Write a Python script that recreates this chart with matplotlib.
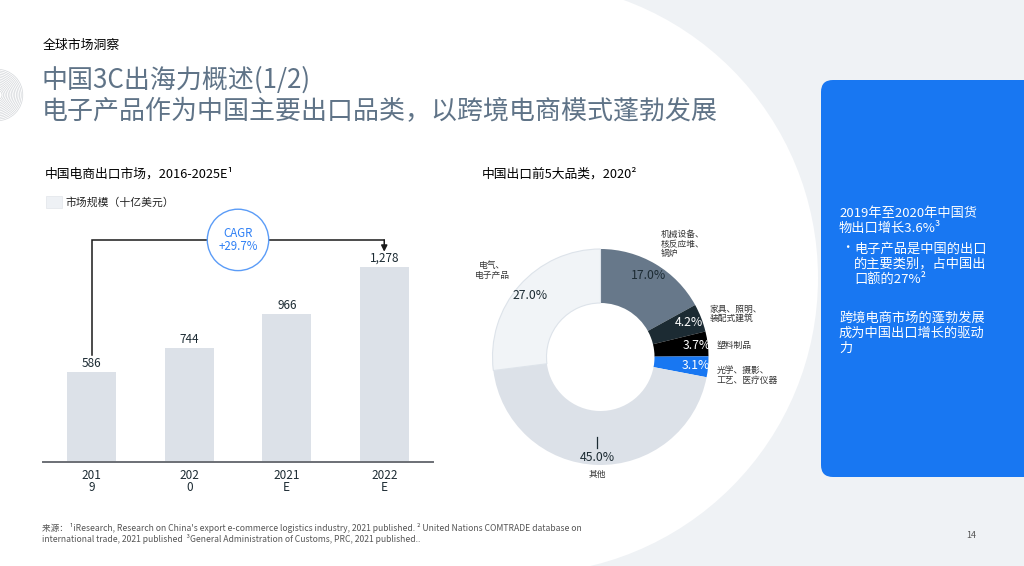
import numpy as np
import matplotlib
matplotlib.use("Agg")
import matplotlib.pyplot as plt
from matplotlib.patches import Circle, Rectangle, FancyBboxPatch
from matplotlib.transforms import ScaledTranslation

plt.rcParams["font.family"] = ["Noto Sans CJK SC", "DejaVu Sans"]

# =========================
# DADOS
# =========================

YEARS = ["201\n9", "202\n0", "2021\nE", "2022\nE"]
MARKET_SIZE = [586, 744, 966, 1278]
CAGR_TEXT = "CAGR\n+29.7%"

CATEGORIES = [
    "机械设备、\n核反应堆、\n锅炉",
    "家具、照明、\n装配式建筑",
    "塑料制品",
    "光学、摄影、\n工艺、医疗仪器",
    "其他",
    "电气、\n电子产品",
]
SHARES = [17.0, 4.2, 3.7, 3.1, 45.0, 27.0]

# estilos (fora dos dados)
SLICE_COLORS = ["#67788a", "#1c2b33", "#000000", "#1877f2", "#dce1e8", "#f1f4f7"]
PCT_COLORS = ["#1c2b33", "white", "white", "white", "#1c2b33", "#1c2b33"]
PCT_RADII = [0.88, 0.88, 0.90, 0.885, 0.93, 0.865]
# posicao (x, y, ha) dos rotulos das categorias, em unidades do raio
CAT_POS = [(0.557, 1.046, "left"), (1.006, 0.40, "left"), (1.076, 0.111, "left"),
           (1.076, -0.17, "left"), (-0.03, -1.083, "center"), (-1.0, 0.80, "center")]

W, H = 1024, 566
TITLE_COLOR = "#5f7387"
BLUE = "#1877f2"
TEXT_DARK = "#1c2b33"

fig = plt.figure(figsize=(W / 100, H / 100), dpi=100)

# =========================
# FUNDO (coordenadas em pixels)
# =========================
bg = fig.add_axes([0, 0, 1, 1])
bg.set_xlim(0, W)
bg.set_ylim(H, 0)
bg.axis("off")

bg.add_patch(Rectangle((522, 0), W - 522, H, color="#eff2f5", lw=0))
bg.add_patch(Circle((522, 278), 296, color="white", lw=0))

for r in np.arange(5, 27, 1.6):
    bg.add_patch(Circle((-3, 95), r, fill=False, ec="#cfd2d6", lw=0.45))

bg.add_patch(FancyBboxPatch((821, 80), 240, 397,
                            boxstyle="round,pad=0,rounding_size=12",
                            fc=BLUE, ec="none"))

bg.text(43, 45, "全球市场洞察", fontsize=9.3, color="black", va="center")
bg.text(42, 80, "中国3C出海力概述(1/2)", fontsize=18.7, color=TITLE_COLOR, va="center")
bg.text(42, 112, "电子产品作为中国主要出口品类，以跨境电商模式蓬勃发展",
        fontsize=18.7, color=TITLE_COLOR, va="center")

bg.text(45, 174, "中国电商出口市场，2016-2025E¹", fontsize=9.2, color="black", va="center")
bg.text(482, 174, "中国出口前5大品类，2020²", fontsize=9.2, color="black", va="center")

bg.add_patch(Rectangle((46, 195.5), 16, 12.5, fc="#eef1f5", ec="#e1e5ea", lw=0.5))
bg.text(66, 202, "市场规模（十亿美元）", fontsize=7.8, color="#222222", va="center")

# texto da caixa azul
box_lines = [
    (839, 213, "2019年至2020年中国货"),
    (839, 228, "物出口增长3.6%³"),
    (854, 249, "电子产品是中国的出口"),
    (854, 264, "的主要类别，占中国出"),
    (854, 279, "口额的27%²"),
    (839, 318, "跨境电商市场的蓬勃发展"),
    (839, 333, "成为中国出口增长的驱动"),
    (839, 348, "力"),
]
for x, y, s in box_lines:
    bg.text(x, y, s, fontsize=9.5, color="white", va="center")
bg.text(841, 247, "•", fontsize=9, color="white", va="center")

bg.text(42, 528, "来源： ¹iResearch, Research on China's export e-commerce logistics industry, "
        "2021 published. ² United Nations COMTRADE database on",
        fontsize=6.2, color="#555555", va="center")
bg.text(42, 539, "international trade, 2021 published  ³General Administration of Customs, "
        "PRC, 2021 published..", fontsize=6.2, color="#555555", va="center")
bg.text(966, 535, "14", fontsize=6.5, color="#555555", va="center")

# =========================
# GRAFICO DE BARRAS
# =========================
BASE_Y, TOP_Y = 461.7, 170
PX_PER_UNIT = 0.1525
ax = fig.add_axes([43 / W, 1 - BASE_Y / H, 390 / W, (BASE_Y - TOP_Y) / H])
ax.patch.set_alpha(0)

x = np.arange(len(YEARS))
bars = ax.bar(x, MARKET_SIZE, width=0.5, color="#dce1e8", zorder=2)
ax.set_xlim(-0.5, len(YEARS) - 0.5)
ax.set_ylim(0, (BASE_Y - TOP_Y) / PX_PER_UNIT)

for xi, v in zip(x, MARKET_SIZE):
    ax.annotate(f"{v:,}", (xi, v), xytext=(0, 1.5), textcoords="offset points",
                ha="center", va="bottom", fontsize=8.5, color=TEXT_DARK)

ax.set_xticks(x, YEARS)
ax.tick_params(axis="x", length=0, pad=5, labelsize=8.5, labelcolor=TEXT_DARK)
for lbl in ax.get_xticklabels():
    lbl.set_linespacing(0.95)
ax.set_yticks([])
for side in ["top", "right", "left"]:
    ax.spines[side].set_visible(False)
ax.spines["bottom"].set_color("#6b6f75")
ax.spines["bottom"].set_linewidth(1.4)

# colchete CAGR
top = max(MARKET_SIZE)
bracket_y = top * 1.138
x0, x1 = x[0], x[-1]
ax.plot([x0, x0, x1], [MARKET_SIZE[0] + 114, bracket_y, bracket_y],
        color="#1a1a1a", lw=1.1, solid_joinstyle="miter", zorder=3)
ax.annotate("", xy=(x1, top + 99), xytext=(x1, bracket_y),
            arrowprops=dict(arrowstyle="-|>", color="#1a1a1a", lw=1.1,
                            mutation_scale=9, shrinkA=0, shrinkB=0), zorder=3)
xm = (x0 + x1) / 2
trans = fig.dpi_scale_trans + ScaledTranslation(xm, bracket_y, ax.transData)
ax.add_patch(Circle((0, 0), 0.307, transform=trans, fc="white", ec="#5b9cf7",
                    lw=1.0, zorder=4, clip_on=False))
ax.text(xm, bracket_y, CAGR_TEXT, ha="center", va="center", fontsize=8.3,
        color="#2f80f5", linespacing=1.05, zorder=5)

# =========================
# GRAFICO DE ROSCA
# =========================
CX, CY, R = 600.5, 357, 108
half = 1.3 * R
pax = fig.add_axes([(CX - half) / W, 1 - (CY + half) / H, 2 * half / W, 2 * half / H])
wedges, _ = pax.pie(SHARES, colors=SLICE_COLORS, startangle=90, counterclock=False,
                    radius=1, wedgeprops=dict(width=0.5, edgecolor="none"))
wedges[-1].set_edgecolor("#dde3ea")
wedges[-1].set_linewidth(0.8)
pax.set_xlim(-1.3, 1.3)
pax.set_ylim(-1.3, 1.3)

for w, v, r, c in zip(wedges, SHARES, PCT_RADII, PCT_COLORS):
    th = np.deg2rad((w.theta1 + w.theta2) / 2)
    pax.text(r * np.cos(th), r * np.sin(th), f"{v:.1f}%", ha="center", va="center",
             fontsize=8.8, color=c)

for lab, (lx, ly, ha) in zip(CATEGORIES, CAT_POS):
    pax.text(lx, ly, lab, ha=ha, va="center", fontsize=6.3, color="#333333",
             linespacing=1.05)

pax.plot([-0.03, -0.03], [-0.745, -0.845], color=TEXT_DARK, lw=0.9)

fig.savefig("out.png", dpi=100)
